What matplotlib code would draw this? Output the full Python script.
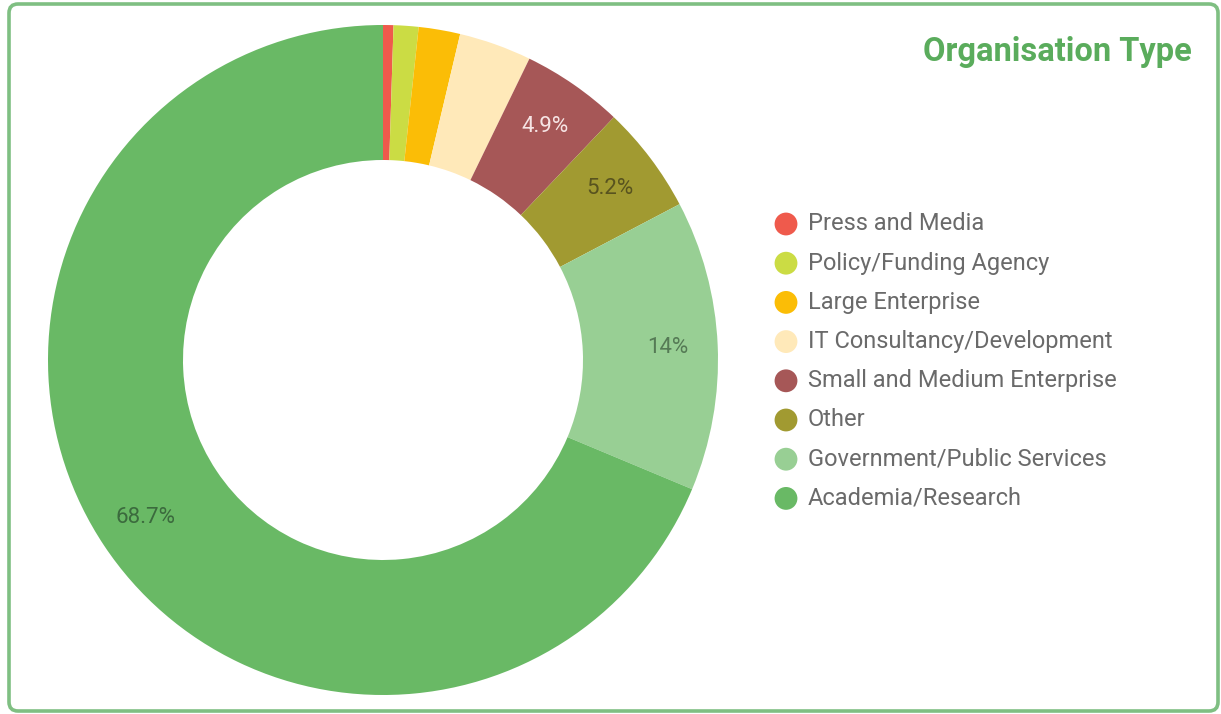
import matplotlib
matplotlib.use("Agg")
import matplotlib.pyplot as plt
from matplotlib.patches import FancyBboxPatch
import numpy as np

plt.rcParams['font.family'] = ['Roboto', 'DejaVu Sans']

categories = [
    "Press and Media",
    "Policy/Funding Agency",
    "Large Enterprise",
    "IT Consultancy/Development",
    "Small and Medium Enterprise",
    "Other",
    "Government/Public Services",
    "Academia/Research",
]
shares = [0.5, 1.2, 2.0, 3.5, 4.9, 5.2, 14.0, 68.7]
colors = ["#ef5a4c", "#cbdc44", "#fbbd06", "#ffe9b9",
          "#a65757", "#a19a31", "#98cf94", "#69b965"]
label_colors = [None, None, None, None,
                "#f6e4e4", "#58531f", "#557a55", "#3b6a3d"]
min_labelled = 4.9

W, H = 1221, 714
fig = plt.figure(figsize=(W / 100, H / 100), dpi=100)
ax = fig.add_axes([0, 0, 1, 1])

# card frame
frame = FancyBboxPatch((9, 3), 1209, 707,
                       boxstyle="round,pad=0,rounding_size=9",
                       linewidth=2.6, edgecolor="#7fbf82", facecolor="white",
                       zorder=0)
ax.add_patch(frame)

cx, cy, r_out = 383, H - 360, 335
ring = 135
wedges, _ = ax.pie(shares, colors=colors, startangle=90, counterclock=False,
                   radius=r_out, center=(cx, cy), frame=True,
                   wedgeprops=dict(width=ring, linewidth=0))
ax.set_xlim(0, W)
ax.set_ylim(0, H)
ax.set_aspect('equal')
ax.axis('off')

# percentage labels on the larger slices
for w, v, lc in zip(wedges, shares, label_colors):
    if v < min_labelled:
        continue
    mid = np.deg2rad((w.theta1 + w.theta2) / 2)
    rr = 0.85 * r_out
    ax.text(cx + rr * np.cos(mid), cy + rr * np.sin(mid), f"{v:g}%",
            ha='center', va='center', fontsize=16, color=lc, zorder=5)

# title
ax.text(1192, H - 52, "Organisation Type", ha='right', va='center',
        fontsize=23.5, fontweight='bold', color="#5aac5c")

# legend
lx, ly0, dy = 786, 224, 39.2
for i, (name, c) in enumerate(zip(categories, colors)):
    y = H - (ly0 + i * dy)
    ax.scatter([lx], [y], s=270, color=c, edgecolors='none', zorder=5)
    ax.text(lx + 22, y, name, ha='left', va='center', fontsize=17,
            color="#6a6a6a")

fig.savefig("out.png", dpi=100)
